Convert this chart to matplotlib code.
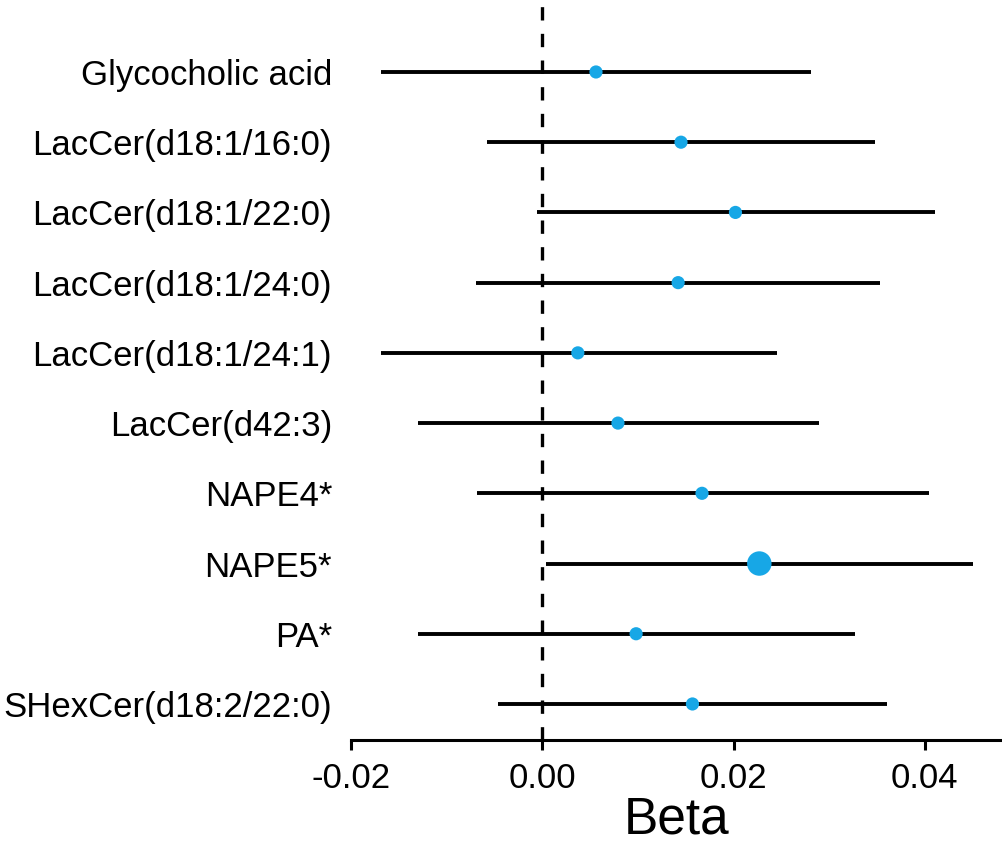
import matplotlib
matplotlib.use("Agg")
import matplotlib.pyplot as plt
import numpy as np

names = ["Glycocholic acid", "LacCer(d18:1/16:0)", "LacCer(d18:1/22:0)",
         "LacCer(d18:1/24:0)", "LacCer(d18:1/24:1)", "LacCer(d42:3)",
         "NAPE4*", "NAPE5*", "PA*", "SHexCer(d18:2/22:0)"]
beta = [0.0056, 0.0145, 0.0202, 0.0142, 0.0037, 0.0079, 0.0167, 0.0227, 0.0098, 0.0157]
lower = [-0.0169, -0.0058, -0.0006, -0.0070, -0.0169, -0.0130, -0.0069, 0.0004, -0.0130, -0.0047]
upper = [0.0281, 0.0348, 0.0411, 0.0353, 0.0245, 0.0289, 0.0405, 0.0451, 0.0327, 0.0361]
point_size = [90, 90, 90, 90, 90, 90, 90, 310, 90, 90]
xticks = [-0.02, 0.00, 0.02, 0.04]
xticklabels = ["-0.02", "0.00", "0.02", "0.04"]

plt.rcParams['font.family'] = ['Liberation Sans', 'DejaVu Sans']

fig = plt.figure(figsize=(10.03, 8.46), dpi=100)
ax = fig.add_axes([0.3504, 0.1253, 0.6476, 0.8747])

n = len(names)
ypos = np.arange(n)[::-1]

ax.axvline(0, color='black', lw=2.4, linestyle=(0, (4, 4)), zorder=1)
ax.hlines(ypos, lower, upper, color='black', lw=2.8, zorder=2)
ax.scatter(beta, ypos, s=point_size, color='#17A7E6', edgecolors='none', zorder=3)

ax.set_xlim(-0.02, 0.0480)
ax.set_ylim(-0.513, 10.025)

ax.set_yticks(ypos)
ax.set_yticklabels(names, fontsize=25)
ax.tick_params(axis='y', length=0, pad=14)

ax.set_xticks(xticks)
ax.set_xticklabels(xticklabels, fontsize=25)
ax.tick_params(axis='x', length=7, width=2.2, pad=9, colors='black')

for s in ['top', 'right', 'left']:
    ax.spines[s].set_visible(False)
ax.spines['bottom'].set_linewidth(2.2)

ax.set_xlabel("Beta", fontsize=37, labelpad=0)

fig.savefig("out.png", dpi=100)
